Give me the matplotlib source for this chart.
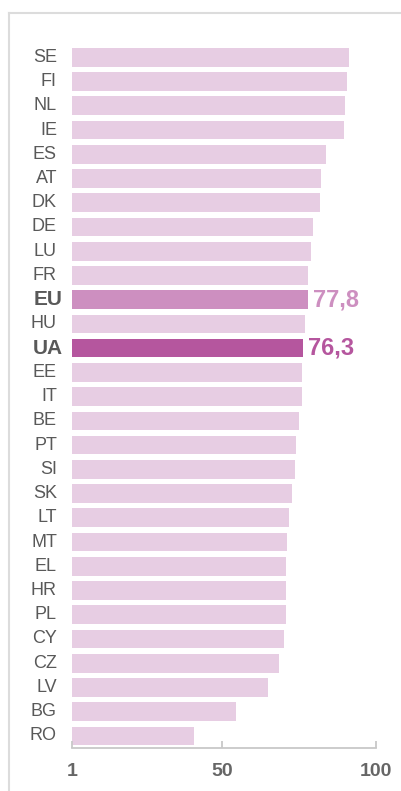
import matplotlib
matplotlib.use("Agg")
import matplotlib.pyplot as plt
from matplotlib.lines import Line2D

countries = ["SE", "FI", "NL", "IE", "ES", "AT", "DK", "DE", "LU", "FR", "EU", "HU", "UA",
             "EE", "IT", "BE", "PT", "SI", "SK", "LT", "MT", "EL", "HR", "PL", "CY", "CZ",
             "LV", "BG", "RO"]
values = [91.3, 90.6, 89.9, 89.7, 83.7, 82.2, 81.9, 79.7, 79.0, 77.9, 77.8, 77.0, 76.3,
          76.1, 76.1, 75.0, 73.9, 73.7, 72.9, 71.7, 71.1, 70.9, 70.8, 70.7, 70.1, 68.6,
          64.9, 54.4, 40.7]
highlight = {"EU": "77,8", "UA": "76,3"}
xticks = [1, 50, 100]

base_color = "#E7CDE3"
colors = {"EU": "#CD8FC0", "UA": "#B5569E"}
text_gray = "#595959"

plt.rcParams['font.family'] = ['Liberation Sans', 'DejaVu Sans']

fig = plt.figure(figsize=(4.01, 7.91), dpi=100)
ax = fig.add_axes([0.1788, 0.05436, 0.7581, 0.8885])

ypos = list(range(len(countries)))
x0 = xticks[0]
bar_colors = [colors.get(c, base_color) for c in countries]
ax.barh(ypos, [v - x0 for v in values], left=x0, height=0.77, color=bar_colors,
        edgecolor="none")

ax.set_xlim(xticks[0], xticks[-1])
ax.set_ylim(len(countries) - 0.5, -0.5)

for sp in ["top", "right", "left"]:
    ax.spines[sp].set_visible(False)
ax.spines["bottom"].set_color("#C8C8C8")
ax.spines["bottom"].set_linewidth(1.3)

ax.set_xticks(xticks)
ax.set_xticklabels([str(t) for t in xticks])
ax.tick_params(axis="x", direction="in", length=5, width=1.3, color="#C8C8C8",
               pad=10.5, labelsize=14, labelcolor="#666666")
for lab in ax.get_xticklabels():
    lab.set_fontweight("bold")
ax.set_yticks([])

for i, (c, v) in enumerate(zip(countries, values)):
    if c in highlight:
        ax.annotate(c, xy=(0, i), xycoords=("axes fraction", "data"),
                    xytext=(-6.5, 0), textcoords="offset points", ha="right",
                    va="center", fontsize=15, fontweight="bold", color=text_gray)
        ax.annotate(highlight[c], xy=(v, i), xytext=(4, 0), textcoords="offset points",
                    ha="left", va="center", fontsize=17, fontweight="bold",
                    color=colors[c])
    else:
        ax.annotate(c, xy=(0, i), xycoords=("axes fraction", "data"),
                    xytext=(-10.6, 0), textcoords="offset points", ha="right",
                    va="center", fontsize=13, color=text_gray)

# outer frame lines (top and left)
fig.add_artist(Line2D([9 / 401, 1.0], [1 - 13 / 791, 1 - 13 / 791],
                      transform=fig.transFigure, color="#DCDCDC", linewidth=1.5))
fig.add_artist(Line2D([9 / 401, 9 / 401], [0.0, 1 - 13 / 791],
                      transform=fig.transFigure, color="#DCDCDC", linewidth=1.5))

fig.savefig("out.png", dpi=100)
